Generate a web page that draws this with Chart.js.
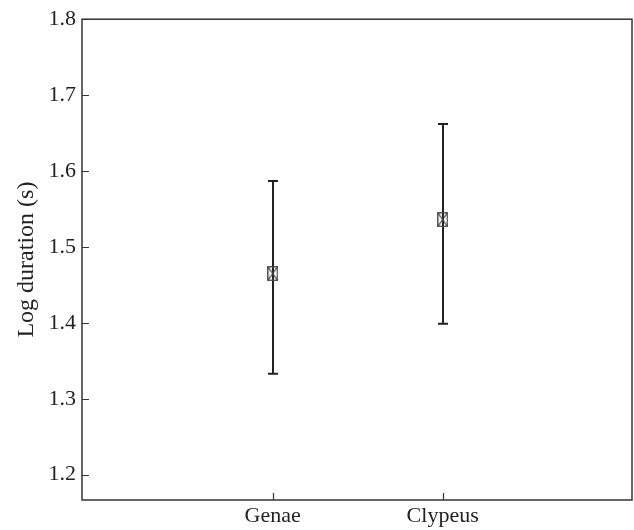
<!DOCTYPE html>
<html>
<head>
<meta charset="utf-8">
<script src="https://cdn.jsdelivr.net/npm/chart.js@4"></script>
<style>
  html, body { margin: 0; padding: 0; background: #fff; overflow: hidden; }
  canvas { display: block; }
</style>
</head>
<body>
<canvas id="chart" width="634" height="530"></canvas>
<script>
const categories = ["Genae", "Clypeus"];
const positions = [1, 2];
const means = [1.465, 1.536];
const upper = [1.587, 1.662];
const lower = [1.333, 1.399];
const yTicks = [1.2, 1.3, 1.4, 1.5, 1.6, 1.7, 1.8];

const ink = "#222";
const serif = "'Liberation Serif', 'DejaVu Serif', serif";
const font = { family: serif, size: 22 };

// little box with a cross in it, used as the point marker
function boxMarker() {
    const c = document.createElement("canvas");
    c.width = 11;
    c.height = 15;
    const g = c.getContext("2d");
    g.strokeStyle = "#444";
    g.lineWidth = 1.3;
    g.strokeRect(0.75, 0.75, 9.5, 13.5);
    g.beginPath();
    g.moveTo(0.75, 0.75); g.lineTo(10.25, 14.25);
    g.moveTo(10.25, 0.75); g.lineTo(0.75, 14.25);
    g.stroke();
    return c;
}

const frame = {
    id: "frame",
    beforeDatasetsDraw(chart) {
        const { ctx, chartArea: a, scales: { x, y } } = chart;
        ctx.save();
        ctx.strokeStyle = "#333";
        ctx.lineWidth = 1.5;
        ctx.strokeRect(a.left, a.top, a.right - a.left, a.bottom - a.top);
        // inward ticks
        ctx.beginPath();
        y.ticks.forEach(t => {
            const py = Math.round(y.getPixelForValue(t.value)) + 0.5;
            ctx.moveTo(a.left, py);
            ctx.lineTo(a.left + 7, py);
        });
        x.ticks.forEach(t => {
            const px = Math.round(x.getPixelForValue(t.value)) + 0.5;
            ctx.moveTo(px, a.bottom);
            ctx.lineTo(px, a.bottom - 7);
        });
        ctx.lineWidth = 1.2;
        ctx.stroke();
        // error bars
        ctx.strokeStyle = ink;
        ctx.lineWidth = 2;
        ctx.beginPath();
        positions.forEach((p, i) => {
            const px = Math.round(x.getPixelForValue(p));
            const hi = y.getPixelForValue(upper[i]);
            const lo = y.getPixelForValue(lower[i]);
            ctx.moveTo(px, hi);
            ctx.lineTo(px, lo);
            ctx.moveTo(px - 5, hi);
            ctx.lineTo(px + 5, hi);
            ctx.moveTo(px - 5, lo);
            ctx.lineTo(px + 5, lo);
        });
        ctx.stroke();
        ctx.restore();
    }
};

new Chart(document.getElementById("chart"), {
    type: "scatter",
    data: {
        datasets: [{
            data: positions.map((p, i) => ({ x: p, y: means[i] })),
            pointStyle: boxMarker(),
            pointRadius: 6,
        }],
    },
    options: {
        responsive: false,
        animation: false,
        layout: { autoPadding: false, padding: { top: 18, right: 2, left: 0, bottom: 0 } },
        plugins: { legend: { display: false }, tooltip: { enabled: false } },
        scales: {
            x: {
                type: "linear",
                min: -0.122,
                max: 3.114,
                border: { display: false },
                grid: { display: false, drawTicks: false },
                afterBuildTicks: s => { s.ticks = positions.map(v => ({ value: v })); },
                ticks: {
                    autoSkip: false,
                    maxRotation: 0,
                    padding: 3,
                    color: ink,
                    font: font,
                    callback: v => categories[positions.indexOf(v)],
                },
                afterFit: s => { s.height = 30; },
            },
            y: {
                min: 1.1667,
                max: 1.8,
                border: { display: false },
                grid: { display: false, drawTicks: false },
                afterBuildTicks: s => { s.ticks = yTicks.map(v => ({ value: v })); },
                ticks: {
                    padding: 6,
                    color: ink,
                    font: font,
                    callback: v => v.toFixed(1),
                },
                title: {
                    display: true,
                    text: "Log duration (s)",
                    color: ink,
                    font: { family: serif, size: 24 },
                    padding: { top: 12, bottom: 0 },
                },
                afterFit: s => { s.width = 82; },
            },
        },
    },
    plugins: [frame],
});
</script>
</body>
</html>
